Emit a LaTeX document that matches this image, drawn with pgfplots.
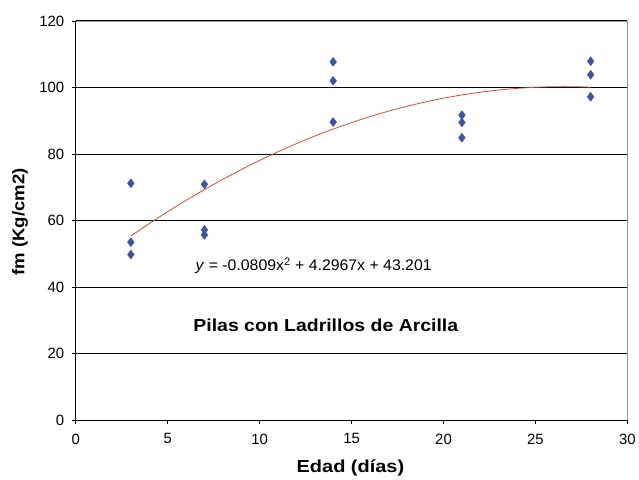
\documentclass[border=0pt]{standalone}
\usepackage{pgfplots}
\pgfplotsset{compat=1.18}
\usepackage{fontspec}
\setmainfont{Liberation Sans}
\definecolor{ptblue}{RGB}{62,84,160}
\definecolor{trendred}{RGB}{225,70,45}
\definecolor{topgray}{RGB}{150,150,150}
\begin{document}
\begin{tikzpicture}[x=1bp,y=1bp]
\begin{axis}[
    at={(0,0)}, anchor=south west,
    scale only axis,
    width=554bp, height=401bp,
    xmin=0, xmax=30, ymin=0, ymax=120,
    xtick={0,5,...,30}, ytick={0,20,...,120},
    axis x line*=bottom, axis y line*=left,
    tick align=outside,
    major tick length=4bp,
    tick style={black, line width=0.8pt},
    axis line style={black, line width=1pt, -},
    ymajorgrids,
    grid style={black, line width=0.9pt},
    ticklabel style={font=\fontsize{15}{17}\selectfont},
    xticklabel style={yshift=-6bp},
    yticklabel style={xshift=-4bp},
    /pgf/number format/assume math mode=true,
    clip=false,
]
\addplot[only marks, mark=diamond*, mark size=4.5bp, color=ptblue] coordinates {
    (3,71.2) (3,53.5) (3,49.8)
    (7,70.9) (7,57.2) (7,55.7)
    (14,107.7) (14,102.0) (14,89.6)
    (21,91.7) (21,89.5) (21,84.9)
    (28,107.9) (28,103.8) (28,97.2)
};
\addplot[trendred, line width=0.8pt, smooth] coordinates {
    (3,55.363) (4,59.093) (5,62.662) (6,66.069) (7,69.314) (8,72.397)
    (9,75.319) (10,78.078) (11,80.676) (12,83.112) (13,85.386) (14,87.498)
    (15,89.449) (16,91.238) (17,92.865) (18,94.330) (19,95.634) (20,96.775)
    (21,97.755) (22,98.573) (23,99.229) (24,99.723) (25,100.056) (26,100.227)
    (27,100.236) (28,100.083)
};
\node[font=\fontsize{15.5}{17}\selectfont, xscale=1.03] at (axis cs:12.94,46.4) {\textit{y} = -0.0809x\textsuperscript{2} + 4.2967x + 43.201};
\node[font=\fontsize{17.5}{20}\selectfont\bfseries, xscale=1.12] at (axis cs:13.6,28.4) {Pilas con Ladrillos de Arcilla};
\node[font=\fontsize{17.5}{20}\selectfont\bfseries, anchor=base, xscale=1.15] at (axis description cs:0.498,-0.13) {Edad (días)};
\node[font=\fontsize{17}{20}\selectfont\bfseries, rotate=90, xscale=1.1] at (axis description cs:-0.101,0.497) {fm (Kg/cm2)};
\draw[topgray, line width=0.6pt] (axis cs:0,120) -- (axis cs:30,120) -- (axis cs:30,0);
\end{axis}
\path[use as bounding box] (-76bp,-54bp) rectangle (563bp,422bp);
\end{tikzpicture}
\end{document}
